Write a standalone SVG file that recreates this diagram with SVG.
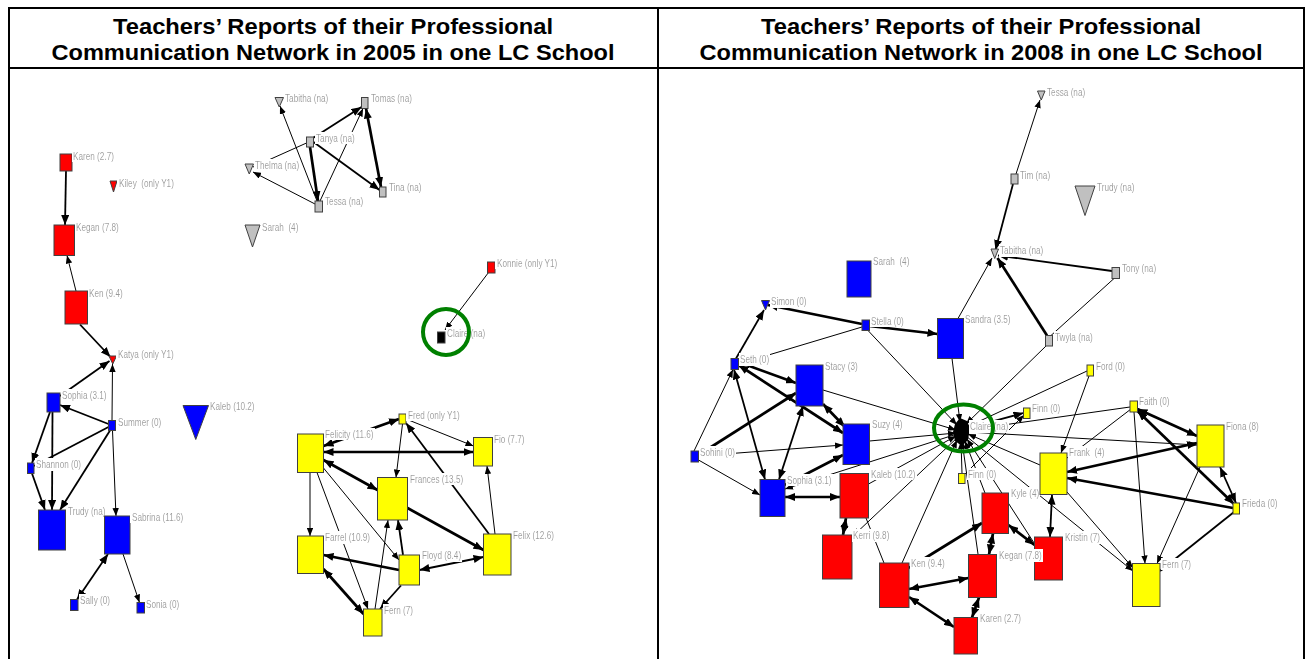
<svg xmlns="http://www.w3.org/2000/svg" width="1313" height="659" viewBox="0 0 1313 659">
<defs>
<style>
.fr{fill:none;stroke:#000;stroke-width:2}
.tt{font-family:"Liberation Sans",Arial,sans-serif;font-weight:bold;font-size:22px;fill:#000}
.e{stroke:#000;fill:none}
.w1{stroke-width:1}
.w2{stroke-width:1.8}
.w3{stroke-width:2.7}
.a1{marker-end:url(#ms)}
.b1{marker-start:url(#ms);marker-end:url(#ms)}
.a2{marker-end:url(#ml)}
.b2{marker-start:url(#ml);marker-end:url(#ml)}
.n{stroke:#404040;stroke-width:1}
.r{fill:#f00}.b{fill:#00f}.y{fill:#ff0}.g{fill:#c0c0c0}.k{fill:#000}
.lb{font-family:"Liberation Sans",Arial,sans-serif;font-size:10.5px;fill:#999;white-space:pre;filter:url(#bg)}
.gc{fill:none;stroke:#008000;stroke-width:4}
</style>
<filter id="bg" x="-0.02" y="0.05" width="1.04" height="0.95"><feFlood flood-color="#fff"/><feComposite in="SourceGraphic"/></filter>
<marker id="ms" viewBox="0 0 10 8" refX="10" refY="4" markerWidth="8" markerHeight="6.5" markerUnits="userSpaceOnUse" orient="auto-start-reverse"><path d="M0,0L10,4L0,8z" fill="#000"/></marker>
<marker id="ml" viewBox="0 0 10 8" refX="10" refY="4" markerWidth="10" markerHeight="8" markerUnits="userSpaceOnUse" orient="auto-start-reverse"><path d="M0,0L10,4L0,8z" fill="#000"/></marker>
</defs>
<rect width="1313" height="659" fill="#fff"/>
<g id="frame">
<rect class="fr" x="9" y="8" width="1295" height="660"/>
<line class="fr" x1="9" y1="68" x2="1304" y2="68"/>
<line class="fr" x1="658" y1="8" x2="658" y2="659"/>
<text class="tt" x="333" y="34" text-anchor="middle" textLength="440" lengthAdjust="spacingAndGlyphs">Teachers’ Reports of their Professional</text>
<text class="tt" x="333" y="60" text-anchor="middle" textLength="563" lengthAdjust="spacingAndGlyphs">Communication Network in 2005 in one LC School</text>
<text class="tt" x="981" y="34" text-anchor="middle" textLength="440" lengthAdjust="spacingAndGlyphs">Teachers’ Reports of their Professional</text>
<text class="tt" x="981" y="60" text-anchor="middle" textLength="563" lengthAdjust="spacingAndGlyphs">Communication Network in 2008 in one LC School</text>
</g>
<g id="connectors">
<!-- left panel -->
<line class="e w2 a2" x1="66" y1="171" x2="65" y2="225"/>
<line class="e w1 a1" x1="76" y1="291" x2="67" y2="255.5"/>
<line class="e w2 a2" x1="80" y1="324.5" x2="110.5" y2="357"/>
<line class="e w2 a2" x1="60" y1="396" x2="109.5" y2="361"/>
<line class="e w1 a1" x1="112" y1="420.5" x2="112.5" y2="364"/>
<line class="e w2 a2" x1="108.5" y1="424" x2="60" y2="405"/>
<line class="e w2" x1="108.5" y1="427" x2="34" y2="466"/>
<line class="e w2 a2" x1="110" y1="430.5" x2="60" y2="510"/>
<line class="e w1 a1" x1="112.5" y1="430.5" x2="116" y2="516"/>
<line class="e w2 a2" x1="50" y1="412" x2="32" y2="463"/>
<line class="e w2 a2" x1="52.5" y1="412" x2="52" y2="510"/>
<line class="e w2 a2" x1="32" y1="473.5" x2="45" y2="510"/>
<line class="e w2 b2" x1="77" y1="599.5" x2="108" y2="554"/>
<line class="e w1 a1" x1="123" y1="554" x2="139.5" y2="602.5"/>
<line class="e w1 a1" x1="317" y1="201" x2="280" y2="106"/>
<line class="e w3 a2" x1="310" y1="147" x2="318" y2="201"/>
<line class="e w1 a1" x1="315" y1="204" x2="253" y2="172"/>
<line class="e w1" x1="306.5" y1="143" x2="253" y2="167"/>
<line class="e w2 a2" x1="313" y1="138" x2="361.5" y2="107"/>
<line class="e w1 a1" x1="320" y1="201" x2="363" y2="108.5"/>
<line class="e w3 b2" x1="366" y1="108.5" x2="381" y2="187"/>
<line class="e w2 a2" x1="313.5" y1="142" x2="379.5" y2="190"/>
<line class="e w1 a1" x1="488.5" y1="272.5" x2="445" y2="330"/>
<line class="e w3 b2" x1="323.5" y1="446" x2="399" y2="419"/>
<line class="e w3 b2" x1="323.5" y1="452" x2="473.5" y2="452"/>
<line class="e w1 a1" x1="406" y1="419" x2="473.5" y2="446"/>
<line class="e w1 a1" x1="402.5" y1="424" x2="396" y2="477.5"/>
<line class="e w2 a2" x1="489" y1="534" x2="406" y2="423"/>
<line class="e w3 b2" x1="323.5" y1="460" x2="377.5" y2="490"/>
<line class="e w3 a2" x1="407.5" y1="508" x2="483.5" y2="550"/>
<line class="e w1 a1" x1="495" y1="534" x2="487" y2="466"/>
<line class="e w1 a1" x1="310" y1="472.5" x2="310" y2="536"/>
<line class="e w1 a1" x1="317" y1="472.5" x2="368" y2="609"/>
<line class="e w1 a1" x1="323.5" y1="468" x2="399" y2="560"/>
<line class="e w3 a2" x1="399" y1="570" x2="323.5" y2="555"/>
<line class="e w2 b2" x1="419.5" y1="570" x2="483.5" y2="557"/>
<line class="e w2 a2" x1="403" y1="555" x2="398" y2="520"/>
<line class="e w1 a1" x1="375" y1="609" x2="388" y2="520"/>
<line class="e w3 b2" x1="323.5" y1="569" x2="363.5" y2="614"/>
<line class="e w2 a2" x1="401" y1="585.5" x2="380" y2="609"/>
<!-- right panel -->
<line class="e w1 a1" x1="1016" y1="174" x2="1040" y2="100"/>
<line class="e w2 a2" x1="1013" y1="184" x2="995.5" y2="250"/>
<line class="e w2 a2" x1="1112" y1="271" x2="998" y2="255.5"/>
<line class="e w3 a2" x1="1047" y1="335.5" x2="997.5" y2="258"/>
<line class="e w1" x1="1051" y1="335.5" x2="1114" y2="278.5"/>
<line class="e w1 a1" x1="958" y1="318.5" x2="992" y2="258"/>
<line class="e w1 a1" x1="1046" y1="346" x2="966" y2="424"/>
<line class="e w3 a2" x1="869.5" y1="326" x2="937.5" y2="334"/>
<line class="e w3 a2" x1="862" y1="324" x2="768" y2="305"/>
<line class="e w1" x1="862" y1="327" x2="738.5" y2="364"/>
<line class="e w1 a1" x1="868" y1="330.5" x2="957" y2="425"/>
<line class="e w1 a1" x1="952" y1="358.5" x2="960" y2="422"/>
<line class="e w2 a2" x1="736" y1="358.5" x2="764" y2="310"/>
<line class="e w1 a1" x1="694" y1="451" x2="733" y2="369.5"/>
<line class="e w1 a1" x1="698.5" y1="460" x2="760" y2="495"/>
<line class="e w3 a2" x1="698.5" y1="455" x2="796" y2="393"/>
<line class="e w1 a1" x1="698.5" y1="456" x2="843" y2="445"/>
<line class="e w3 a2" x1="738.5" y1="362" x2="796" y2="383"/>
<line class="e w3 b2" x1="738.5" y1="365" x2="843" y2="433"/>
<line class="e w2 b2" x1="734" y1="369.5" x2="765" y2="479.5"/>
<line class="e w2 b2" x1="803" y1="406" x2="779" y2="479.5"/>
<line class="e w3 b2" x1="823" y1="404" x2="845" y2="427"/>
<line class="e w3 a2" x1="785" y1="485" x2="843" y2="455"/>
<line class="e w3 b2" x1="785" y1="497" x2="840" y2="497"/>
<line class="e w1 a1" x1="823" y1="390" x2="956" y2="430"/>
<line class="e w1 a1" x1="869.5" y1="441" x2="956" y2="433"/>
<line class="e w1 a1" x1="957" y1="434" x2="785" y2="489"/>
<line class="e w1 a1" x1="868.5" y1="484" x2="956" y2="436"/>
<line class="e w1 a1" x1="958" y1="437" x2="853" y2="536"/>
<line class="e w3 b2" x1="846" y1="518" x2="843" y2="535"/>
<line class="e w1" x1="866" y1="518" x2="884" y2="563"/>
<line class="e w1 a1" x1="902" y1="563" x2="957" y2="440"/>
<line class="e w3 b2" x1="909" y1="589" x2="968.5" y2="578"/>
<line class="e w3 b2" x1="909" y1="597" x2="954" y2="627"/>
<line class="e w3 b2" x1="979" y1="597.5" x2="972" y2="617.5"/>
<line class="e w3 b2" x1="989" y1="554.5" x2="993" y2="533.5"/>
<line class="e w3 a2" x1="909" y1="568" x2="982" y2="523"/>
<line class="e w1 a1" x1="978" y1="554" x2="962" y2="441"/>
<line class="e w1 a1" x1="985" y1="493" x2="965" y2="441"/>
<line class="e w1 a1" x1="1036" y1="546" x2="967" y2="439"/>
<line class="e w3 b2" x1="1008.5" y1="525" x2="1034.5" y2="545"/>
<line class="e w1 a1" x1="962" y1="473.5" x2="961" y2="441"/>
<line class="e w1 a1" x1="965" y1="474" x2="1024" y2="415"/>
<line class="e w2 a2" x1="968" y1="428" x2="1023.5" y2="413"/>
<line class="e w1 a1" x1="1087" y1="371" x2="967" y2="427"/>
<line class="e w1 a1" x1="1130" y1="407" x2="968" y2="430"/>
<line class="e w1 a1" x1="968" y1="432" x2="1197" y2="445"/>
<line class="e w1 a1" x1="1040" y1="465" x2="968" y2="434"/>
<line class="e w1 a1" x1="966" y1="436" x2="1133" y2="571"/>
<line class="e w1 a1" x1="1089" y1="376" x2="1061" y2="453"/>
<line class="e w1" x1="1131" y1="409" x2="1067" y2="458"/>
<line class="e w1 a1" x1="1134" y1="412" x2="1145" y2="563.5"/>
<line class="e w3 b2" x1="1137.5" y1="409" x2="1197" y2="436"/>
<line class="e w3 b2" x1="1137.5" y1="411" x2="1234" y2="504"/>
<line class="e w3 b2" x1="1197" y1="443" x2="1067" y2="472"/>
<line class="e w3 a2" x1="1233" y1="508" x2="1067" y2="478"/>
<line class="e w2 b2" x1="1220" y1="467" x2="1236" y2="503"/>
<line class="e w1 a1" x1="1200" y1="467" x2="1157" y2="563.5"/>
<line class="e w2 a2" x1="1234" y1="512" x2="1160" y2="571"/>
<line class="e w1 a1" x1="1067" y1="492" x2="1133" y2="568"/>
<line class="e w2 b2" x1="1052" y1="494.5" x2="1050" y2="537"/>
</g>
<!-- LEFT PANEL NODES -->
<g id="l-karen"><rect class="n r" x="60" y="154" width="12" height="17"/><text class="lb" transform="translate(73 159.5) scale(.78 1)">Karen (2.7)</text></g>
<g id="l-kiley"><polygon class="n r" points="110,181 117,181 113.5,192"/><text class="lb" transform="translate(119 186.5) scale(.78 1)">Kiley  (only Y1)</text></g>
<g id="l-kegan"><rect class="n r" x="54" y="225" width="20.5" height="30.5"/><text class="lb" transform="translate(76 230.5) scale(.78 1)">Kegan (7.8)</text></g>
<g id="l-ken"><rect class="n r" x="65" y="291" width="22.5" height="33"/><text class="lb" transform="translate(89 296.5) scale(.78 1)">Ken (9.4)</text></g>
<g id="l-katya"><polygon class="n r" points="109,356 116.5,356 112.75,364"/><text class="lb" transform="translate(118 357.5) scale(.78 1)">Katya (only Y1)</text></g>
<g id="l-konnie"><rect class="n r" x="487.5" y="262" width="7.5" height="11"/><text class="lb" transform="translate(497 266.5) scale(.78 1)">Konnie (only Y1)</text></g>
<g id="l-sophia"><rect class="n b" x="47" y="393" width="13" height="19"/><text class="lb" transform="translate(62 398.5) scale(.78 1)">Sophia (3.1)</text></g>
<g id="l-summer"><rect class="n b" x="108.5" y="420.5" width="7" height="10"/><text class="lb" transform="translate(118 425.5) scale(.78 1)">Summer (0)</text></g>
<g id="l-kaleb"><polygon class="n b" points="183,405.5 208.5,405.5 195.75,439.5"/><text class="lb" transform="translate(210 409.5) scale(.78 1)">Kaleb (10.2)</text></g>
<g id="l-shannon"><rect class="n b" x="27.5" y="463" width="6.5" height="10.5"/><text class="lb" transform="translate(36 468) scale(.78 1)">Shannon (0)</text></g>
<g id="l-trudy"><rect class="n b" x="38.5" y="510" width="27" height="40"/><text class="lb" transform="translate(68 515) scale(.78 1)">Trudy (na)</text></g>
<g id="l-sabrina"><rect class="n b" x="104.5" y="516" width="25.5" height="38"/><text class="lb" transform="translate(132 520.5) scale(.78 1)">Sabrina (11.6)</text></g>
<g id="l-sally"><rect class="n b" x="70.5" y="599.5" width="7.5" height="11"/><text class="lb" transform="translate(80 603.5) scale(.78 1)">Sally (0)</text></g>
<g id="l-sonia"><rect class="n b" x="137" y="602.5" width="7.5" height="10.5"/><text class="lb" transform="translate(146 607.5) scale(.78 1)">Sonia (0)</text></g>
<g id="l-tabitha"><polygon class="n g" points="275,97.5 283.5,97.5 279.25,107"/><text class="lb" transform="translate(285 102) scale(.78 1)">Tabitha (na)</text></g>
<g id="l-tomas"><rect class="n g" x="361.5" y="97.5" width="6.5" height="11"/><text class="lb" transform="translate(371 102) scale(.78 1)">Tomas (na)</text></g>
<g id="l-tanya"><rect class="n g" x="306.5" y="137" width="7" height="10"/><text class="lb" transform="translate(316 141.5) scale(.78 1)">Tanya (na)</text></g>
<g id="l-thelma"><polygon class="n g" points="245,164 253.5,164 249.25,174"/><text class="lb" transform="translate(255 168.5) scale(.78 1)">Thelma (na)</text></g>
<g id="l-tina"><rect class="n g" x="379.5" y="187" width="6.5" height="10"/><text class="lb" transform="translate(389 190.5) scale(.78 1)">Tina (na)</text></g>
<g id="l-tessa"><rect class="n g" x="315" y="201" width="7.5" height="11"/><text class="lb" transform="translate(325 205) scale(.78 1)">Tessa (na)</text></g>
<g id="l-sarah"><polygon class="n g" points="245,225 260,225 252.5,247"/><text class="lb" transform="translate(262 231) scale(.78 1)">Sarah  (4)</text></g>
<g id="l-fred"><rect class="n y" x="399" y="414" width="7" height="10"/><text class="lb" transform="translate(408 418.5) scale(.78 1)">Fred (only Y1)</text></g>
<g id="l-felicity"><rect class="n y" x="297.5" y="434" width="26" height="38.5"/><text class="lb" transform="translate(325 437.5) scale(.78 1)">Felicity (11.6)</text></g>
<g id="l-fio"><rect class="n y" x="473.5" y="437.5" width="19" height="28.5"/><text class="lb" transform="translate(494 442.5) scale(.78 1)">Fio (7.7)</text></g>
<g id="l-frances"><rect class="n y" x="377.5" y="477.5" width="30" height="42.5"/><text class="lb" transform="translate(410 482.5) scale(.78 1)">Frances (13.5)</text></g>
<g id="l-felix"><rect class="n y" x="483.5" y="534" width="27.5" height="41"/><text class="lb" transform="translate(513 539) scale(.78 1)">Felix (12.6)</text></g>
<g id="l-farrel"><rect class="n y" x="297.5" y="536" width="26" height="37.5"/><text class="lb" transform="translate(325 541) scale(.78 1)">Farrel (10.9)</text></g>
<g id="l-floyd"><rect class="n y" x="399" y="555" width="20.5" height="30"/><text class="lb" transform="translate(422 559) scale(.78 1)">Floyd (8.4)</text></g>
<g id="l-fern"><rect class="n y" x="363.5" y="609" width="18.5" height="27"/><text class="lb" transform="translate(384 613.5) scale(.78 1)">Fern (7)</text></g>
<g id="l-claire"><rect class="n k" x="437.5" y="332" width="7.5" height="11"/><text class="lb" transform="translate(447 337) scale(.78 1)">Claire (na)</text><circle class="gc" cx="446" cy="332" r="23"/></g>
<!-- RIGHT PANEL NODES -->
<g id="r-tessa"><polygon class="n g" points="1037.5,91 1045,91 1041.25,100"/><text class="lb" transform="translate(1047 95.5) scale(.78 1)">Tessa (na)</text></g>
<g id="r-tim"><rect class="n g" x="1011" y="174" width="7" height="10"/><text class="lb" transform="translate(1020 178.5) scale(.78 1)">Tim (na)</text></g>
<g id="r-trudy"><polygon class="n g" points="1075,186 1095,186 1085,215.5"/><text class="lb" transform="translate(1097 190.5) scale(.78 1)">Trudy (na)</text></g>
<g id="r-tabitha"><polygon class="n g" points="991,249 998.5,249 994.75,258.5"/><text class="lb" transform="translate(1000 254) scale(.78 1)">Tabitha (na)</text></g>
<g id="r-tony"><rect class="n g" x="1112" y="267.5" width="7.5" height="11"/><text class="lb" transform="translate(1122 271.5) scale(.78 1)">Tony (na)</text></g>
<g id="r-twyla"><rect class="n g" x="1045.5" y="335.5" width="7" height="10.5"/><text class="lb" transform="translate(1055 340.5) scale(.78 1)">Twyla (na)</text></g>
<g id="r-sarah"><rect class="n b" x="847" y="261" width="24" height="36"/><text class="lb" transform="translate(873 265) scale(.78 1)">Sarah  (4)</text></g>
<g id="r-stella"><rect class="n b" x="862" y="320" width="7.5" height="10.5"/><text class="lb" transform="translate(871 324.5) scale(.78 1)">Stella (0)</text></g>
<g id="r-sandra"><rect class="n b" x="937.5" y="318.5" width="26" height="40"/><text class="lb" transform="translate(965 323) scale(.78 1)">Sandra (3.5)</text></g>
<g id="r-simon"><polygon class="n b" points="761.5,300.5 769.5,300.5 765.5,310"/><text class="lb" transform="translate(771 305) scale(.78 1)">Simon (0)</text></g>
<g id="r-seth"><rect class="n b" x="731" y="358.5" width="7.5" height="11"/><text class="lb" transform="translate(740 363) scale(.78 1)">Seth (0)</text></g>
<g id="r-stacy"><rect class="n b" x="796" y="365" width="27" height="41"/><text class="lb" transform="translate(825 369.5) scale(.78 1)">Stacy (3)</text></g>
<g id="r-suzy"><rect class="n b" x="843" y="424" width="26.5" height="40.5"/><text class="lb" transform="translate(872 428) scale(.78 1)">Suzy (4)</text></g>
<g id="r-sohini"><rect class="n b" x="691" y="451" width="7.5" height="11"/><text class="lb" transform="translate(700 456) scale(.78 1)">Sohini (0)</text></g>
<g id="r-sophia"><rect class="n b" x="760" y="479.5" width="25" height="37"/><text class="lb" transform="translate(787 483.5) scale(.78 1)">Sophia (3.1)</text></g>
<g id="r-kaleb"><rect class="n r" x="840" y="473.5" width="28.5" height="44.5"/><text class="lb" transform="translate(871 477.5) scale(.78 1)">Kaleb (10.2)</text></g>
<g id="r-kerri"><rect class="n r" x="822.5" y="535" width="29.5" height="44"/><text class="lb" transform="translate(853 539) scale(.78 1)">Kerri (9.8)</text></g>
<g id="r-ken"><rect class="n r" x="879.5" y="563" width="29.5" height="44.5"/><text class="lb" transform="translate(911 567) scale(.78 1)">Ken (9.4)</text></g>
<g id="r-kristin"><rect class="n r" x="1034.5" y="537" width="28" height="43"/><text class="lb" transform="translate(1065 541) scale(.78 1)">Kristin (7)</text></g>
<g id="r-kegan"><rect class="n r" x="968.5" y="554.5" width="28" height="43"/><text class="lb" transform="translate(999 559) scale(.78 1)">Kegan (7.8)</text></g>
<g id="r-karen"><rect class="n r" x="954" y="617.5" width="23.5" height="36.5"/><text class="lb" transform="translate(980 621.5) scale(.78 1)">Karen (2.7)</text></g>
<g id="r-kyle"><rect class="n r" x="982" y="493" width="26.5" height="40.5"/><text class="lb" transform="translate(1011 497) scale(.78 1)">Kyle (4)</text></g>
<g id="r-finn1"><rect class="n y" x="1023.5" y="408" width="6.5" height="10.5"/><text class="lb" transform="translate(1032 412) scale(.78 1)">Finn (0)</text></g>
<g id="r-finn2"><rect class="n y" x="958.5" y="473.5" width="6.5" height="10"/><text class="lb" transform="translate(968 477.5) scale(.78 1)">Finn (0)</text></g>
<g id="r-ford"><rect class="n y" x="1087" y="365" width="6.5" height="11"/><text class="lb" transform="translate(1096 369.5) scale(.78 1)">Ford (0)</text></g>
<g id="r-faith"><rect class="n y" x="1130" y="401" width="7.5" height="11"/><text class="lb" transform="translate(1139 405) scale(.78 1)">Faith (0)</text></g>
<g id="r-fiona"><rect class="n y" x="1197" y="425" width="27" height="42"/><text class="lb" transform="translate(1226 429.5) scale(.78 1)">Fiona (8)</text></g>
<g id="r-frank"><rect class="n y" x="1040" y="453" width="27" height="41.5"/><text class="lb" transform="translate(1069 456) scale(.78 1)">Frank  (4)</text></g>
<g id="r-frieda"><rect class="n y" x="1233" y="503" width="6.5" height="11"/><text class="lb" transform="translate(1242 507) scale(.78 1)">Frieda (0)</text></g>
<g id="r-fern"><rect class="n y" x="1132.5" y="563.5" width="27.5" height="43"/><text class="lb" transform="translate(1162 567.5) scale(.78 1)">Fern (7)</text></g>
<g id="r-claire"><path class="k" d="M955,424 L960,418 L967,421 L970,428 L968,440 L962,446 L955,441 L953,432 z"/><text class="lb" transform="translate(970 430) scale(.78 1)">Claire (na)</text><ellipse class="gc" cx="963.5" cy="428" rx="29.5" ry="23.5"/></g>
</svg>
